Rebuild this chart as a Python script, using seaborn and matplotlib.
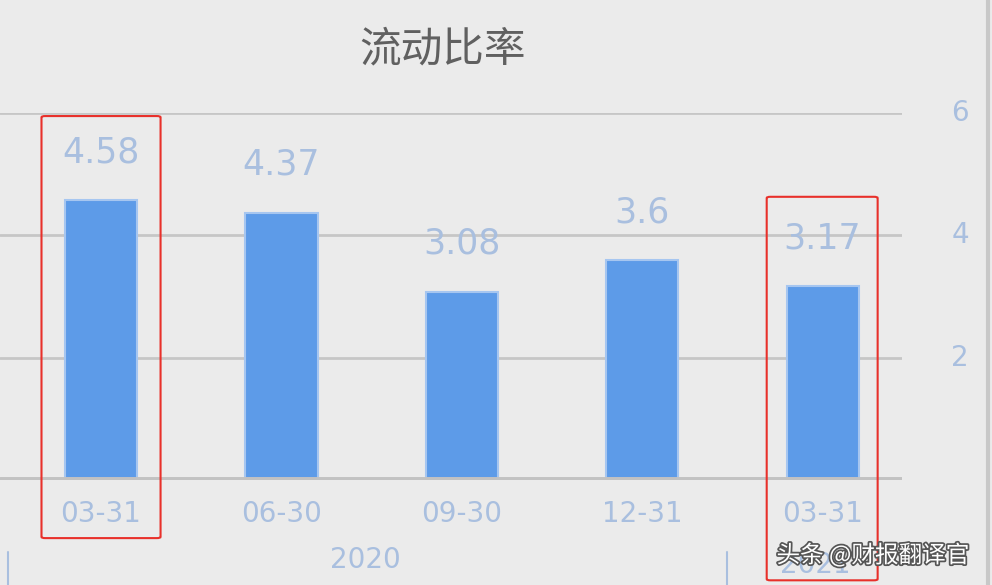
import matplotlib
matplotlib.use('Agg')
import matplotlib.pyplot as plt
import matplotlib.patheffects as pe
from matplotlib.patches import FancyBboxPatch
import seaborn as sns
import pandas as pd

# data
dates = ['03-31', '06-30', '09-30', '12-31', '03-31 ']
ratios = [4.58, 4.37, 3.08, 3.6, 3.17]
value_labels = ['4.58', '4.37', '3.08', '3.6', '3.17']
y_ticks = [2, 4, 6]
years = ['2020', '2021']

bg = '#ebebeb'
lab_col = '#a9bfdf'
grid_col = '#c6c6c6'

sns.set_style('white')
plt.rcParams['font.family'] = ['DejaVu Sans', 'Noto Sans CJK SC']

df = pd.DataFrame({'date': dates, 'ratio': ratios})

fig = plt.figure(figsize=(9.92, 5.85), dpi=100, facecolor=bg)
ax = fig.add_axes([0, 105 / 585, 902 / 992, 367 / 585])
ax.set_facecolor(bg)

sns.barplot(data=df, x='date', y='ratio', color='#5d9be8', width=0.4,
            edgecolor='#a6c6f0', linewidth=1.5, saturation=1, ax=ax)

ax.set_xlim(-0.56, 4.44)
ax.set_ylim(0, 6)
for s in ax.spines.values():
    s.set_visible(False)
ax.set_xlabel('')
ax.set_ylabel('')
ax.set_yticks([])
ax.set_xticks([])

# gridlines
for t in y_ticks:
    ax.axhline(t, color=grid_col, lw=2, zorder=0)
ax.axhline(0, color='#c2c2c2', lw=5, zorder=3)

# value labels
for i, (v, lab) in enumerate(zip(ratios, value_labels)):
    ax.text(i, v + 0.78, lab, ha='center', va='center', fontsize=25,
            color=lab_col)

# x tick labels
for i, d in enumerate(dates):
    ax.text(i, -0.55, d.strip(), ha='center', va='center', fontsize=20,
            color=lab_col, clip_on=False)

# right axis labels
for t in y_ticks:
    fig.text(960 / 992, 1 - (480 - t * 61.2) / 585, str(t), ha='center',
             va='center', fontsize=20, color=lab_col)

# year labels and separators
fig.text(365 / 992, 1 - 560 / 585, years[0], ha='center', va='center',
         fontsize=20, color=lab_col)
fig.text(815 / 992, 1 - 565 / 585, years[1], ha='center', va='center',
         fontsize=20, color=lab_col)
for xp in [8, 727]:
    fig.add_artist(plt.Line2D([xp / 992, xp / 992], [0, 1 - 552 / 585],
                              color=lab_col, lw=1.5))
fig.add_artist(plt.Line2D([988 / 992, 988 / 992], [0, 1], color='#c8c8c8', lw=3))

# title
fig.text(443 / 992, 1 - 50 / 585, '流动比率', ha='center', va='center',
         fontsize=30, color='#606060', family=['Noto Sans CJK SC', 'DejaVu Sans'])

# red highlight boxes
ax.add_patch(FancyBboxPatch((-0.33, -0.95), 0.66, 6.9,
                            boxstyle='round,pad=0,rounding_size=0.02',
                            fill=False, ec='#e8302a', lw=1.5, clip_on=False,
                            zorder=5))
ax.add_patch(FancyBboxPatch((3.69, -1.64), 0.615, 6.27,
                            boxstyle='round,pad=0,rounding_size=0.02',
                            fill=False, ec='#e8302a', lw=1.5, clip_on=False,
                            zorder=5))

# watermark
fig.text(873 / 992, 1 - 555 / 585, '头条 @财报翻译官', ha='center', va='center',
         fontsize=17, color='white', family=['Noto Sans CJK SC', 'DejaVu Sans'],
         path_effects=[pe.withStroke(linewidth=2.5, foreground='#555555')],
         zorder=10)

fig.savefig('out.png', dpi=100, facecolor=bg)
